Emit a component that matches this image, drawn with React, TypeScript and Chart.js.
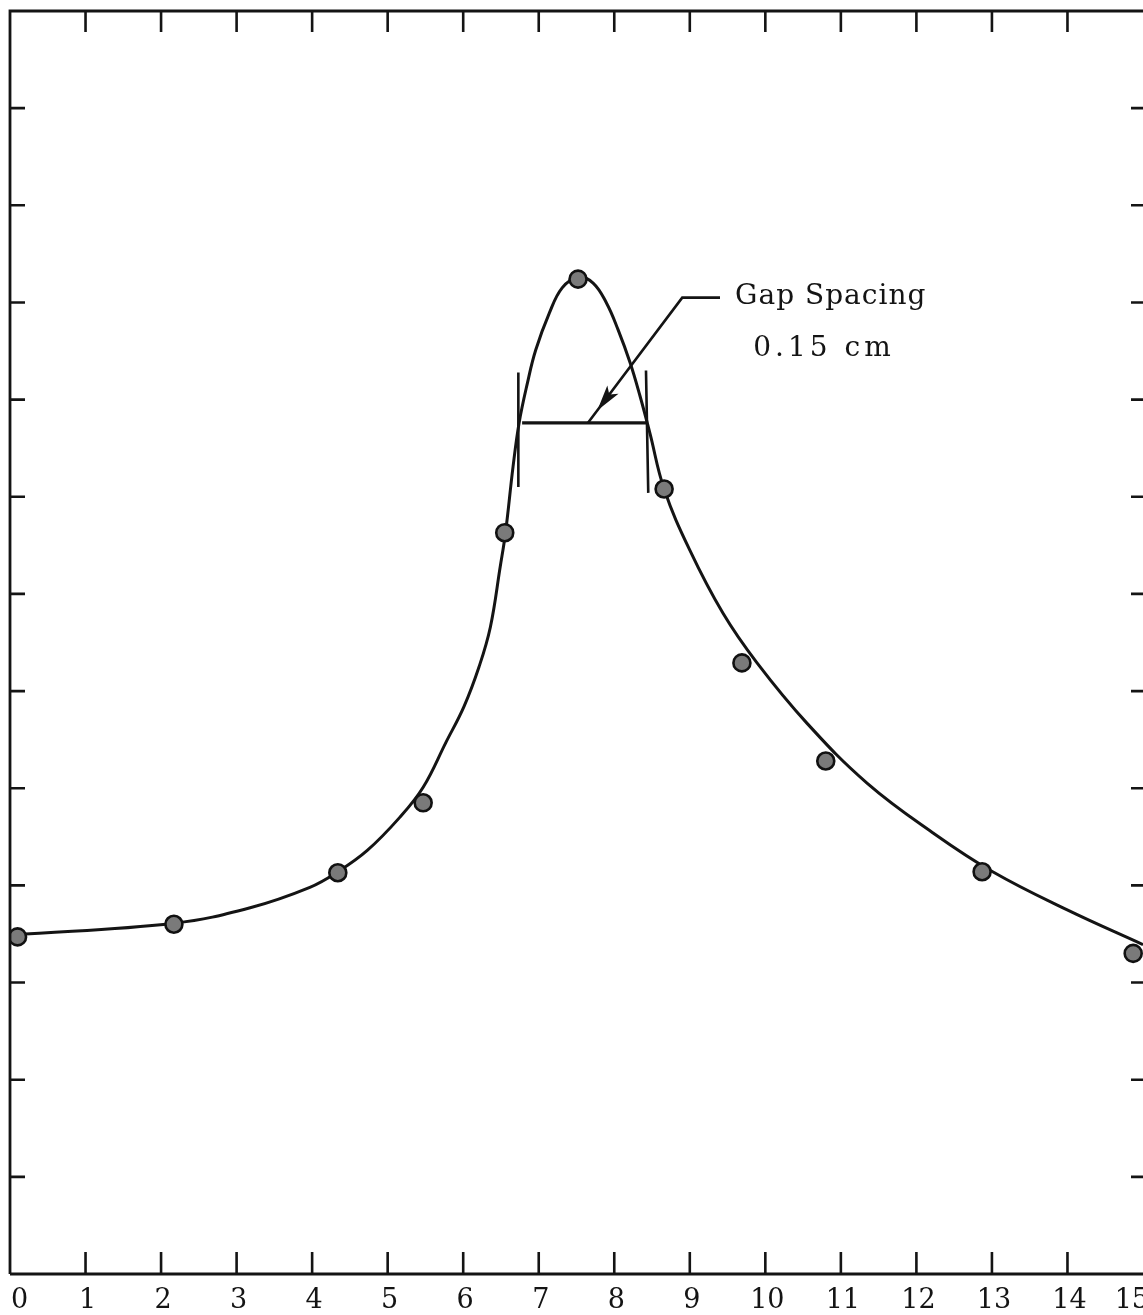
import { useEffect, useRef } from 'react';
import { Chart, registerables } from 'chart.js';

Chart.register(...registerables);

// ---- data ----
const xTickValues = [0, 1, 2, 3, 4, 5, 6, 7, 8, 9, 10, 11, 12, 13, 14, 15];
const xTickLabels = ['0', '1', '2', '3', '4', '5', '6', '7', '8', '9', '10', '11', '12', '13', '14', '15'];
const xInnerTicks = [1, 2, 3, 4, 5, 6, 7, 8, 9, 10, 11, 12, 13, 14];
const yInnerTicks = [1, 2, 3, 4, 5, 6, 7, 8, 9, 10, 11, 12];

const measuredX = [0.1, 2.17, 4.34, 5.47, 6.55, 7.52, 8.66, 9.69, 10.8, 12.87, 14.87];
const measuredY = [3.47, 3.6, 4.13, 4.85, 7.63, 10.24, 8.08, 6.29, 5.28, 4.14, 3.3];

const curveX = [0.04, 2.17, 3.18, 3.97, 4.34, 4.73, 5.16, 5.47, 5.77, 6.01, 6.21, 6.36, 6.49, 6.56, 6.66, 6.74, 6.85, 6.96, 7.14, 7.31, 7.52, 7.72, 7.9, 8.05, 8.21, 8.34, 8.47, 8.66, 9.0, 9.44, 9.89, 10.55, 11.35, 12.22, 13.01, 13.99, 15.0];
const curveY = [3.49, 3.61, 3.77, 3.98, 4.14, 4.36, 4.7, 5.01, 5.47, 5.84, 6.25, 6.66, 7.28, 7.63, 8.31, 8.76, 9.17, 9.51, 9.89, 10.15, 10.26, 10.2, 9.99, 9.72, 9.38, 9.04, 8.66, 8.08, 7.45, 6.8, 6.29, 5.67, 5.05, 4.54, 4.14, 3.75, 3.39];

const annotationTitle = 'Gap Spacing';
const annotationValue = '0.15 cm';

// annotation geometry in data units
const gapBarLeft = { x1: 6.73, y1: 9.28, x2: 6.73, y2: 8.1 };
const gapBarRight = { x1: 8.42, y1: 9.3, x2: 8.45, y2: 8.04 };
const gapLine = { x1: 6.78, x2: 8.43, y: 8.76 };
const arrowStart = { x: 8.9, y: 10.05 };
const arrowEnd = { x: 7.65, y: 8.76 };
const leaderEnd = { x: 9.4, y: 10.05 };
const titlePos = { x: 9.6, y: 10.06 };
const valuePos = { x: 9.84, y: 9.52 };

const FONT = "'DejaVu Serif', serif";
const INK = '#141414';

const framePlugin = {
  id: 'frame',
  afterDraw(chart: any) {
    const { ctx, chartArea } = chart;
    const { left, top, right, bottom } = chartArea;
    const xs = chart.scales.x;
    const ys = chart.scales.y;
    ctx.save();
    ctx.strokeStyle = INK;
    ctx.lineWidth = 2.8;
    ctx.lineCap = 'butt';
    ctx.beginPath();
    ctx.moveTo(left, bottom);
    ctx.lineTo(left, top);
    ctx.lineTo(right, top);
    ctx.moveTo(left, bottom);
    ctx.lineTo(right, bottom);
    ctx.stroke();
    ctx.lineWidth = 2.6;
    ctx.beginPath();
    for (const v of xInnerTicks) {
      const px = xs.getPixelForValue(v);
      ctx.moveTo(px, top);
      ctx.lineTo(px, top + 21);
      ctx.moveTo(px, bottom);
      ctx.lineTo(px, bottom - 22);
    }
    for (const v of yInnerTicks) {
      const py = ys.getPixelForValue(v);
      ctx.moveTo(left, py);
      ctx.lineTo(left + 15, py);
      ctx.moveTo(right - 12, py);
      ctx.lineTo(right, py);
    }
    ctx.stroke();
    // bottom tick labels ("inner" alignment for the first and last label)
    ctx.fillStyle = INK;
    ctx.font = `27px ${FONT}`;
    ctx.textBaseline = 'middle';
    const last = xTickValues.length - 1;
    xTickValues.forEach((v, i) => {
      const px = xs.getPixelForValue(v);
      ctx.textAlign = i === 0 ? 'left' : i === last ? 'right' : 'center';
      ctx.fillText(xTickLabels[i], i === 0 ? px + 1 : i === last ? px + 6 : px + 2, bottom + 27);
    });
    ctx.restore();
  },
};

const annotationPlugin = {
  id: 'gapAnnotation',
  afterDatasetsDraw(chart: any) {
    const { ctx } = chart;
    const xs = chart.scales.x;
    const ys = chart.scales.y;
    const X = (v: number) => xs.getPixelForValue(v);
    const Y = (v: number) => ys.getPixelForValue(v);
    ctx.save();
    ctx.strokeStyle = INK;
    ctx.fillStyle = INK;
    ctx.lineWidth = 2.6;
    ctx.beginPath();
    ctx.moveTo(X(gapBarLeft.x1), Y(gapBarLeft.y1));
    ctx.lineTo(X(gapBarLeft.x2), Y(gapBarLeft.y2));
    ctx.moveTo(X(gapBarRight.x1), Y(gapBarRight.y1));
    ctx.lineTo(X(gapBarRight.x2), Y(gapBarRight.y2));
    ctx.stroke();
    ctx.lineWidth = 3.2;
    ctx.beginPath();
    ctx.moveTo(X(gapLine.x1), Y(gapLine.y));
    ctx.lineTo(X(gapLine.x2), Y(gapLine.y));
    ctx.stroke();
    // arrow
    const sx = X(arrowStart.x), sy = Y(arrowStart.y);
    const ex = X(arrowEnd.x), ey = Y(arrowEnd.y);
    ctx.lineWidth = 2.6;
    ctx.beginPath();
    ctx.moveTo(X(leaderEnd.x), Y(leaderEnd.y));
    ctx.lineTo(sx, sy);
    ctx.lineTo(ex, ey);
    ctx.stroke();
    const dx = ex - sx, dy = ey - sy;
    const len = Math.hypot(dx, dy);
    const ux = dx / len, uy = dy / len;
    const tipT = 0.9 * len;
    const tx = sx + ux * tipT, ty = sy + uy * tipT;
    const bx = tx - ux * 26, by = ty - uy * 26;
    ctx.beginPath();
    ctx.moveTo(tx, ty);
    ctx.lineTo(bx - uy * 7, by + ux * 7);
    ctx.lineTo(bx + ux * 6, by + uy * 6);
    ctx.lineTo(bx + uy * 7, by - ux * 7);
    ctx.closePath();
    ctx.fill();
    // text
    ctx.font = `28px ${FONT}`;
    ctx.textAlign = 'left';
    ctx.textBaseline = 'middle';
    (ctx as any).letterSpacing = '1px';
    ctx.fillText(annotationTitle, X(titlePos.x), Y(titlePos.y));
    (ctx as any).letterSpacing = '4px';
    ctx.fillText(annotationValue, X(valuePos.x), Y(valuePos.y));
    ctx.restore();
  },
};

export default function App() {
  const canvasRef = useRef<HTMLCanvasElement | null>(null);

  useEffect(() => {
    document.body.style.margin = '0';
    document.body.style.background = '#ffffff';
    const canvas = canvasRef.current;
    if (!canvas) return;
    const chart = new Chart(canvas, {
      type: 'scatter',
      data: {
        datasets: [
          {
            label: 'measured',
            data: measuredX.map((x, i) => ({ x, y: measuredY[i] })),
            showLine: false,
            pointRadius: 8.5,
            pointHoverRadius: 8.5,
            pointBackgroundColor: '#7a7a7a',
            pointBorderColor: '#111111',
            pointBorderWidth: 2.6,
            order: 0,
          },
          {
            label: 'fit',
            data: curveX.map((x, i) => ({ x, y: curveY[i] })),
            showLine: true,
            pointRadius: 0,
            pointHoverRadius: 0,
            borderColor: INK,
            borderWidth: 3,
            tension: 0.4,
            order: 1,
          } as any,
        ],
      },
      options: {
        responsive: false,
        animation: false,
        events: [],
        layout: { padding: { left: 10, right: 0, top: 11, bottom: 41 }, autoPadding: false },
        plugins: { legend: { display: false }, tooltip: { enabled: false } },
        scales: {
          x: { type: 'linear', min: 0, max: 15, display: false },
          y: { type: 'linear', min: 0, max: 13, display: false },
        },
      },
      plugins: [framePlugin, annotationPlugin],
    });
    return () => chart.destroy();
  }, []);

  return <canvas ref={canvasRef} width={1143} height={1315} style={{ display: 'block' }} />;
}
